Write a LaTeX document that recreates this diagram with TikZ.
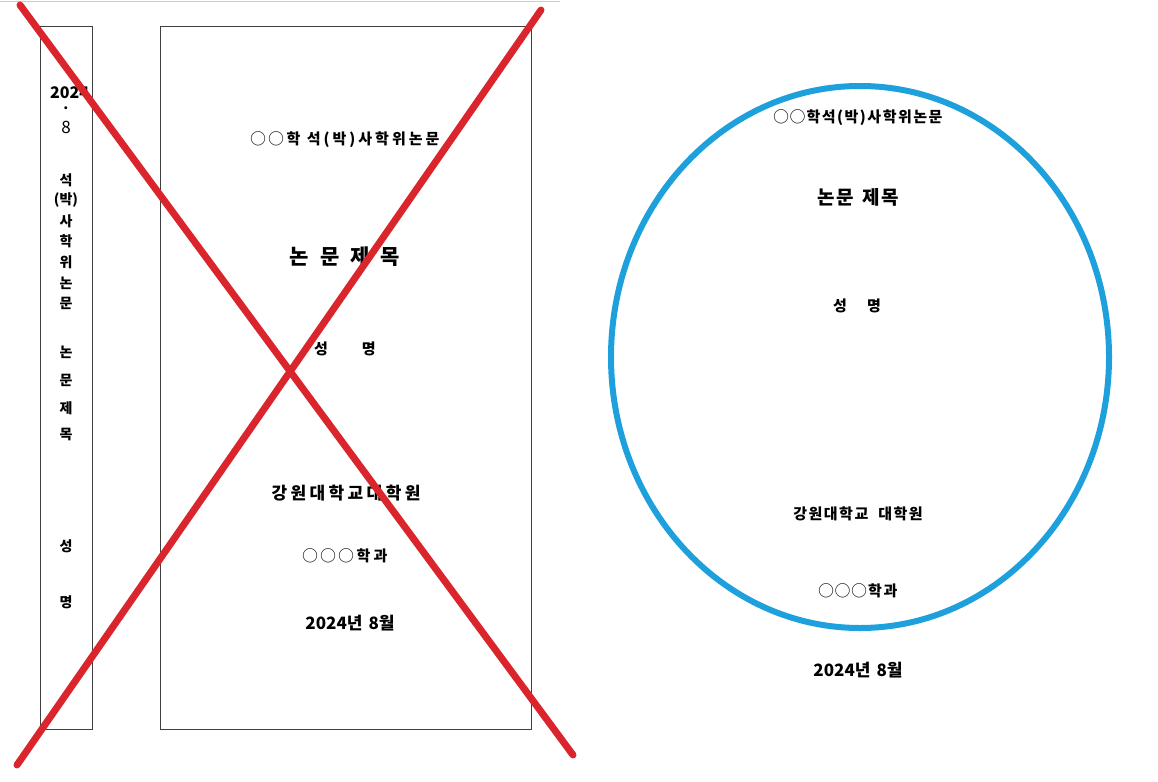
\documentclass[tikz,border=0pt]{standalone}
\usepackage{fontspec}
\newfontfamily\krfont{Noto Sans CJK KR}
\newfontfamily\krwide[LetterSpace=20]{Noto Sans CJK KR}
\newfontfamily\krtight[LetterSpace=10]{Noto Sans CJK KR}
\definecolor{crossred}{RGB}{218,37,45}
\definecolor{discblue}{RGB}{29,160,220}

\begin{document}
\begin{tikzpicture}[x=1pt,y=-1pt,
    covertext/.style={font=\krwide\bfseries\fontsize{15}{17}\selectfont, inner sep=0pt},
    disctext/.style={font=\krtight\bfseries\fontsize{15}{17}\selectfont, inner sep=0pt},
    titletext/.style={font=\krfont\bfseries\fontsize{21}{24}\selectfont, inner sep=0pt},
    spinetext/.style={font=\krfont\bfseries\fontsize{14}{16}\selectfont, inner sep=0pt}]
        \useasboundingbox (0,0) rectangle (1158,781);
        \draw[gray!40, line width=1pt] (0,2) -- (560,2);

        % spine and front cover
        \draw[black!75, line width=1pt] (40,27) rectangle (92,729);
        \draw[black!75, line width=1pt] (160,27) rectangle (531,729);

        \node[spinetext, anchor=west, font=\krfont\bfseries\fontsize{16}{18}\selectfont] (spyear) at (50,93) {2024};
        \node[spinetext] (spdot) at (66,110) {·};
        \node[spinetext, font=\krfont\fontsize{17}{19}\selectfont] (spmonth) at (66,127) {8};
        \foreach \t/\y [count=\i] in {석/180, {(박)}/200, 사/221, 학/241, 위/262, 논/283, 문/303,
                                      논/352, 문/380, 제/408, 목/435, 성/546, 명/602}
            \node[spinetext] (sp\i) at (66,\y) {\t};

        \node[covertext] (cvdegree) at (345,140) {◯◯학 석(박)사학위논문};
        \node[titletext] (cvtitle) at (345,257) {논\hspace{11pt}문\hspace{11pt}제\hspace{11pt}목};
        \node[covertext] (cvname) at (345,349) {성\hspace{34pt}명};
        \node[covertext, font=\krwide\bfseries\fontsize{17}{19}\selectfont] (cvschool) at (346,493) {강원대학교대학원};
        \node[covertext] (cvdept) at (345,556) {◯◯◯학과};
        \node[titletext, font=\krfont\bfseries\fontsize{17}{19}\selectfont] (cvdate) at (350,623) {2024년\hspace{6pt}8월};

        % cross over the old layout
        \draw[crossred, line width=7pt, line cap=round] (20,5) -- (573,755);
        \draw[crossred, line width=7pt, line cap=round] (541,10) -- (17,765);

        % disc label
        \draw[discblue, line width=6pt] (860,357) ellipse [x radius=249, y radius=271];

        \node[disctext] (dkdegree) at (858,118) {◯◯학석(박)사학위논문};
        \node[titletext, font=\krtight\bfseries\fontsize{19}{22}\selectfont] (dktitle) at (858,197) {논문\hspace{8pt}제목};
        \node[disctext] (dkname) at (857,306) {성\hspace{20pt}명};
        \node[disctext] (dkschool) at (858,514) {강원대학교\hspace{10pt}대학원};
        \node[disctext] (dkdept) at (858,591) {◯◯◯학과};
        \node[titletext, font=\krfont\bfseries\fontsize{17}{19}\selectfont] (dkdate) at (858,670) {2024년\hspace{6pt}8월};
\end{tikzpicture}
\end{document}
